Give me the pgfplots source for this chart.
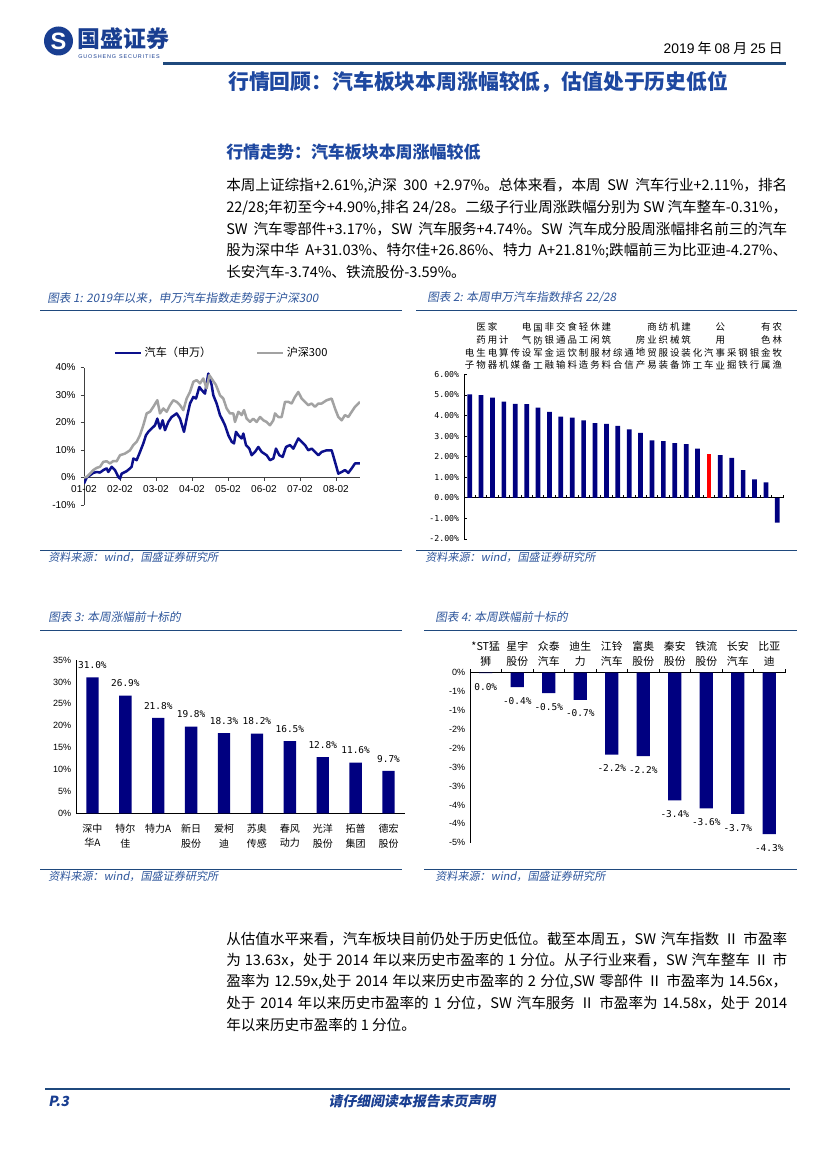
\documentclass[border=0pt]{standalone}
\usepackage{pgfplots}
\pgfplotsset{compat=1.18}
\usepackage{fontspec}
\setmainfont{Noto Sans CJK SC}
\newfontfamily\cjk{Noto Sans CJK SC}
\newfontfamily\cjkit[FakeSlant=0.18]{Noto Sans CJK SC}
\newfontfamily\arial{Liberation Sans}
\newfontfamily\mono{DejaVu Sans Mono}
\XeTeXlinebreaklocale "zh"
\XeTeXlinebreakskip=0pt plus 1.5pt minus 0.5pt
\definecolor{navy}{RGB}{0,0,128}
\definecolor{lineblue}{RGB}{12,16,140}
\definecolor{grayline}{RGB}{162,162,162}
\definecolor{titleblue}{RGB}{30,72,160}
\definecolor{capblue}{RGB}{45,85,155}
\definecolor{rulec}{RGB}{31,73,125}
\definecolor{logoblue}{RGB}{25,62,145}
\newcommand\jl[1]{\hbox to 403.9pt{#1}}
\begin{document}
\begin{tikzpicture}
\begin{scope}[x=0.72pt,y=-0.72pt]
\fill[white] (0,0) rectangle (827,1170);
% header
\fill[logoblue] (58.5,41) circle (14.5);
\node[white, inner sep=0, font=\arial\bfseries\fontsize{17}{17}\selectfont] at (58.5,41.5) {S};
\node[anchor=west, logoblue, font=\cjk\bfseries\fontsize{16.5}{18}\selectfont, inner sep=0] at (77,39) {国盛证券};
\node[anchor=west, logoblue, font=\arial\fontsize{3.9}{4}\selectfont, inner sep=0] at (78,56.5) {G\,U\,O\,S\,H\,E\,N\,G\ \ S\,E\,C\,U\,R\,I\,T\,I\,E\,S};
\node[anchor=east, inner sep=0, font=\cjk\fontsize{10}{12}\selectfont] at (783,48) {{\arial 2019} 年 {\arial 08} 月 {\arial 25} 日};
\draw[rulec, line width=1.8pt] (163,63.5) -- (786,63.5);
\node[anchor=west, inner sep=0, titleblue, font=\cjk\bfseries\fontsize{15}{18}\selectfont] at (228,82) {行情回顾：汽车板块本周涨幅较低，估值处于历史低位};
\node[anchor=west, inner sep=0, titleblue, font=\cjk\bfseries\fontsize{12.2}{14}\selectfont] at (226,152) {行情走势：汽车板块本周涨幅较低};
% paragraphs
\begin{scope}[every node/.style={anchor=west, inner sep=0, font=\cjk\fontsize{10.5}{15}\selectfont}]
\node at (226,186) {\jl{本周上证综指+2.61\%,沪深 300 +2.97\%。总体来看，本周 SW 汽车行业+2.11\%，排名}};
\node at (226,207.5) {\jl{22/28;年初至今+4.90\%,排名 24/28。二级子行业周涨跌幅分别为 SW 汽车整车-0.31\%，}};
\node at (226,229) {\jl{SW 汽车零部件+3.17\%，SW 汽车服务+4.74\%。SW 汽车成分股周涨幅排名前三的汽车}};
\node at (226,250.5) {\jl{股为深中华 A+31.03\%、特尔佳+26.86\%、特力 A+21.81\%;跌幅前三为比亚迪-4.27\%、}};
\node at (226,272) {长安汽车-3.74\%、铁流股份-3.59\%。};
\node at (226,939) {\jl{从估值水平来看，汽车板块目前仍处于历史低位。截至本周五，SW 汽车指数 Ⅱ 市盈率}};
\node at (226,960.5) {\jl{为 13.63x，处于 2014 年以来历史市盈率的 1 分位。从子行业来看，SW 汽车整车 Ⅱ 市}};
\node at (226,982) {\jl{盈率为 12.59x,处于 2014 年以来历史市盈率的 2 分位,SW 零部件 Ⅱ 市盈率为 14.56x，}};
\node at (226,1003.5) {\jl{处于 2014 年以来历史市盈率的 1 分位，SW 汽车服务 Ⅱ 市盈率为 14.58x，处于 2014}};
\node at (226,1025) {年以来历史市盈率的 1 分位。};
\end{scope}
% captions, rules, sources
\begin{scope}[every node/.style={anchor=west, inner sep=0, capblue, font=\cjkit\fontsize{8.4}{9}\selectfont}]
\node at (47,298) {图表 1: 2019年以来，申万汽车指数走势弱于沪深300};
\node at (427,298) {图表 2: 本周申万汽车指数排名 22/28};
\node at (48,617) {图表 3: 本周涨幅前十标的};
\node at (435,617) {图表 4: 本周跌幅前十标的};
\end{scope}
\begin{scope}[every node/.style={anchor=west, inner sep=0, capblue, font=\cjkit\fontsize{8}{9}\selectfont}]
\node at (48,557.5) {资料来源：wind，国盛证券研究所};
\node at (425,557.5) {资料来源：wind，国盛证券研究所};
\node at (48,876) {资料来源：wind，国盛证券研究所};
\node at (435,876) {资料来源：wind，国盛证券研究所};
\end{scope}
\begin{scope}[rulec, line width=1.1pt]
\draw (40,310.5) -- (402,310.5); \draw (416,310.5) -- (797,310.5);
\draw (40,550.5) -- (402,550.5); \draw (416,550.5) -- (797,550.5);
\draw (40,630.5) -- (402,630.5); \draw (424,630.5) -- (797,630.5);
\draw (40,869.5) -- (402,869.5); \draw (424,869.5) -- (797,869.5);
\end{scope}
% footer
\draw[rulec, line width=1.8pt] (45,1089) -- (790,1089);
\node[anchor=west, inner sep=0, logoblue, font=\cjkit\bfseries\fontsize{10}{12}\selectfont] at (48,1101) {P.3};
\node[inner sep=0, logoblue, font=\cjkit\bfseries\fontsize{10}{12}\selectfont] at (412,1101) {请仔细阅读本报告末页声明};
\end{scope}

% ---------- Chart 1 ----------
\begin{axis}[
  at={(60.48pt,-363.6pt)}, anchor=south west, scale only axis,
  width=198.72pt, height=99pt,
  xmin=0, xmax=828, ymin=-10, ymax=40,
  axis x line*=middle, axis y line*=left,
  hide obscured x ticks=false, hide obscured y ticks=false,
  xtick={0,108,...,756},
  xticklabels={01-02,02-02,03-02,04-02,05-02,06-02,07-02,08-02},
  ytick={-10,0,...,40},
  yticklabels={-10\%,0\%,10\%,20\%,30\%,40\%},
  tick label style={font=\arial\fontsize{7.2}{8}\selectfont},
  axis line style={black!75, line width=0.5pt},
  tick style={black!75, line width=0.5pt},
  major tick length=2.5pt, tick align=outside,
  legend columns=2,
  legend style={at={(0.5,1)}, anchor=south, yshift=2pt, draw=none, fill=none,
    font=\cjk\fontsize{8}{9}\selectfont,
    /tikz/every even column/.append style={column sep=30pt}},
  legend image code/.code={\draw[#1] (0pt,0pt) -- (18.5pt,0pt);},
]
\addplot[lineblue, line width=1.8pt, line join=round] coordinates {
(0,-2.2)(8,0)(18,0.8)(28,1.7)(38,2.0)(48,1.8)(58,2.7)(68,3.3)(73,2.0)(83,3.9)
(93,2.7)(103,0.2)(108,-0.4)(113,1.4)(128,2.3)(138,3.3)(143,3.9)(148,6.9)(158,6.3)
(168,9.3)(178,12.4)(186,15.4)(193,16.6)(203,17.8)(213,19.0)(220,21.4)(228,17.8)
(236,20.8)(243,17.2)(253,20.2)(263,22.0)(278,23.3)(288,21.4)(300,16.6)(308,21.4)
(318,26.9)(328,29.3)(336,28.7)(346,32.9)(353,31.8)(363,30.5)(373,37.8)(383,33.6)
(388,29.9)(398,26.9)(408,22.7)(416,20.8)(423,19.0)(433,15.4)(443,13.0)(450,12.4)
(456,16.6)(463,15.4)(473,14.2)(478,16.0)(486,11.8)(496,10.5)(503,8.1)(513,9.3)
(523,11.1)(533,9.3)(548,8.1)(558,6.3)(568,6.9)(576,10.5)(586,8.1)(596,7.5)
(606,11.1)(618,11.8)(628,10.5)(643,14.2)(653,13.0)(663,11.8)(673,9.9)(683,10.5)
(693,9.3)(703,8.1)(713,9.3)(728,9.9)(743,9.9)(753,5.7)(763,1.4)(773,2.0)(783,2.7)
(793,1.7)(803,3.3)(813,5.1)(828,5.1)};
\addlegendentry{汽车（申万）}
\addplot[grayline, line width=1.8pt, line join=round] coordinates {
(0,0)(8,0.2)(18,1.4)(28,2.7)(38,3.5)(48,3.9)(58,5.7)(68,5.9)(78,5.1)(88,6.0)
(98,5.9)(108,8.1)(123,8.7)(138,9.9)(148,11.8)(158,13.0)(168,15.4)(178,19.0)
(188,23.3)(198,23.9)(208,25.7)(220,28.1)(228,23.3)(238,25.1)(248,23.9)(258,26.3)
(268,28.1)(278,27.5)(288,26.3)(298,24.5)(308,28.7)(318,31.1)(328,34.8)(338,35.4)
(348,34.2)(358,36.0)(368,32.4)(376,37.2)(386,35.4)(396,33.6)(408,29.9)(418,28.7)
(428,25.1)(438,23.3)(448,23.3)(453,20.2)(463,23.9)(473,22.7)(480,24.5)(488,21.4)
(498,20.2)(508,21.4)(518,20.2)(528,22.0)(538,20.8)(548,20.2)(558,19.0)(568,20.8)
(573,23.3)(583,22.0)(593,22.0)(603,27.5)(613,27.5)(623,26.9)(633,29.3)(643,31.1)
(653,28.7)(663,27.5)(673,26.3)(683,26.9)(693,25.7)(703,26.9)(713,26.9)(728,28.1)
(743,28.7)(753,25.1)(763,22.0)(773,20.8)(783,22.7)(793,22.0)(803,23.9)(813,25.7)
(828,27.5)};
\addlegendentry{沪深300}
\end{axis}

% ---------- Chart 2 ----------
\begin{axis}[
  at={(334.08pt,-388.08pt)}, anchor=south west, scale only axis,
  width=229.68pt, height=118.58pt,
  xmin=0.5, xmax=28.5, ymin=-2, ymax=6,
  axis x line*=middle, axis y line*=left,
  xtick={0.5,1.5,...,28.5}, xticklabels={},
  ytick={-2,-1,...,6},
  yticklabels={-2.00\%,-1.00\%,0.00\%,1.00\%,2.00\%,3.00\%,4.00\%,5.00\%,6.00\%},
  yticklabel style={font=\mono\fontsize{5.9}{7}\selectfont},
  axis line style={black, line width=0.6pt},
  tick style={black, line width=0.5pt},
  major tick length=2pt,
]
\addplot[ybar, bar width=3.4pt, bar shift=0pt, fill=navy, draw=none] coordinates {
(1,5.02)(2,4.99)(3,4.87)(4,4.67)(5,4.56)(6,4.55)(7,4.38)(8,4.17)(9,3.94)(10,3.89)
(11,3.76)(12,3.63)(13,3.59)(14,3.50)(15,3.32)(16,3.15)(17,2.79)(18,2.76)(19,2.66)
(20,2.61)(21,2.39)(23,2.07)(24,1.94)(25,1.34)(26,0.90)(27,0.75)(28,-1.21)};
\addplot[ybar, bar width=3.4pt, bar shift=0pt, fill=red, draw=none] coordinates {(22,2.11)};
\end{axis}
\begin{axis}[
  at={(334.08pt,-388.08pt)}, anchor=south west, scale only axis,
  width=229.68pt, height=118.58pt,
  xmin=0.5, xmax=28.5, ymin=-2, ymax=6,
  axis x line*=top, axis y line=none, x axis line style={draw=none},
  ytick=\empty, xtick={1,...,28}, major tick length=0pt,
  xticklabels={{电\\子},{医\\药\\生\\物},{家\\用\\电\\器},{计\\算\\机},{传\\媒},{电\\气\\设\\备},{国\\防\\军\\工},{非\\银\\金\\融},{交\\通\\运\\输},{食\\品\\饮\\料},{轻\\工\\制\\造},{休\\闲\\服\\务},{建\\筑\\材\\料},{综\\合},{通\\信},{房\\地\\产},{商\\业\\贸\\易},{纺\\织\\服\\装},{机\\械\\设\\备},{建\\筑\\装\\饰},{化\\工},{汽\\车},{公\\用\\事\\业},{采\\掘},{钢\\铁},{银\\行},{有\\色\\金\\属},{农\\林\\牧\\渔}},
  xticklabel style={align=center, anchor=south, inner sep=0pt, yshift=3.2pt,
    font=\cjk\fontsize{6.8}{9.2}\selectfont},
]
\addplot[draw=none] coordinates {(1,0)};
\end{axis}

% ---------- Chart 3 ----------
\begin{axis}[
  at={(54.72pt,-585.58pt)}, anchor=south west, scale only axis,
  width=236.88pt, height=110.38pt, clip=false,
  xmin=0.5, xmax=10.5, ymin=0, ymax=35,
  axis x line*=bottom, axis y line*=left,
  xtick={1,...,10},
  xticklabels={{深中\\华A},{特尔\\佳},{特力A},{新日\\股份},{爱柯\\迪},{苏奥\\传感},{春风\\动力},{光洋\\股份},{拓普\\集团},{德宏\\股份}},
  xticklabel style={align=center, anchor=north, inner sep=0pt, yshift=-7.5pt,
    font=\cjk\fontsize{7.2}{10.5}\selectfont},
  ytick={0,5,...,35},
  yticklabels={0\%,5\%,10\%,15\%,20\%,25\%,30\%,35\%},
  yticklabel style={font=\arial\fontsize{6.5}{7}\selectfont},
  axis line style={black, line width=0.6pt},
  major tick length=0pt,
]
\addplot[ybar, bar width=8.9pt, bar shift=0pt, fill=navy, draw=none,
  nodes near coords, point meta=explicit symbolic,
  every node near coord/.append style={font=\mono\fontsize{6.8}{7}\selectfont, inner sep=0pt, anchor=south, yshift=6pt, black}]
  coordinates {(1,31.03)[31.0\%] (2,26.86)[26.9\%] (3,21.81)[21.8\%] (4,19.8)[19.8\%] (5,18.3)[18.3\%]
  (6,18.2)[18.2\%] (7,16.5)[16.5\%] (8,12.8)[12.8\%] (9,11.6)[11.6\%] (10,9.7)[9.7\%]};
\end{axis}

% ---------- Chart 4 ----------
\begin{axis}[
  at={(338.4pt,-606.74pt)}, anchor=south west, scale only axis,
  width=226.8pt, height=122.4pt, clip=false,
  xmin=0.5, xmax=10.5, ymin=-4.5, ymax=0,
  axis x line*=top, axis y line*=left,
  xtick={1,...,10},
  xticklabels={{*ST猛\\狮},{星宇\\股份},{众泰\\汽车},{迪生\\力},{江铃\\汽车},{富奥\\股份},{秦安\\股份},{铁流\\股份},{长安\\汽车},{比亚\\迪}},
  xticklabel style={align=center, anchor=south, inner sep=0pt, yshift=4.5pt,
    font=\cjk\fontsize{7.8}{10.8}\selectfont},
  minor xtick={0.5,1.5,...,10.5},
  ytick={-4.5,-4,...,0},
  yticklabels={-5\%,-4\%,-4\%,-3\%,-3\%,-2\%,-2\%,-1\%,-1\%,0\%},
  yticklabel style={font=\arial\fontsize{6.5}{7}\selectfont},
  axis line style={black, line width=0.6pt},
  tick style={black, line width=0.5pt},
  major tick length=0pt, minor tick length=2.5pt, tick align=outside,
]
\addplot[ybar, bar width=9.6pt, bar shift=0pt, fill=navy, draw=none,
  nodes near coords, point meta=explicit symbolic,
  every node near coord/.append style={font=\mono\fontsize{6.8}{7}\selectfont, inner sep=0pt, anchor=north, yshift=-7pt, black}]
  coordinates {(1,-0.01)[0.0\%] (2,-0.38)[-0.4\%] (3,-0.54)[-0.5\%] (4,-0.72)[-0.7\%] (5,-2.17)[-2.2\%]
  (6,-2.21)[-2.2\%] (7,-3.38)[-3.4\%] (8,-3.59)[-3.6\%] (9,-3.74)[-3.7\%] (10,-4.27)[-4.3\%]};
\end{axis}
\end{tikzpicture}
\end{document}
